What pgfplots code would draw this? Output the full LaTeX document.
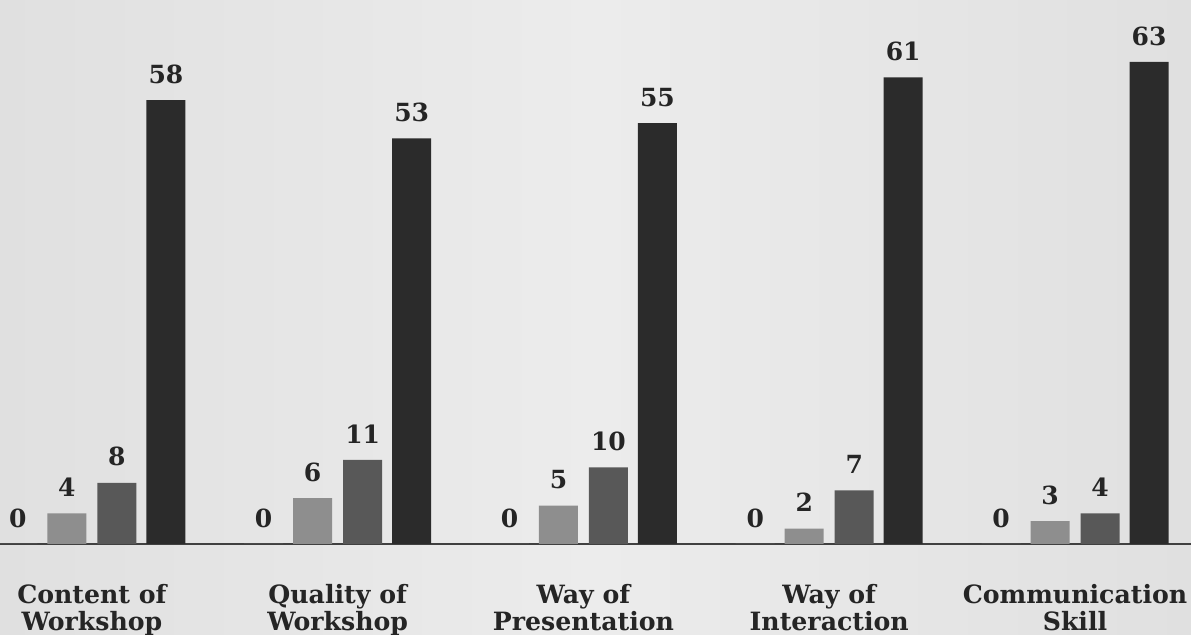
\documentclass[border=0pt]{standalone}
\usepackage{fontspec}
\setmainfont{DejaVu Serif}
\usepackage{pgfplots}
\pgfplotsset{compat=1.18}
\definecolor{bgc}{HTML}{E0E0E0}
\definecolor{bgw}{HTML}{ECECEC}
\definecolor{lightbar}{HTML}{8E8E8E}
\definecolor{midbar}{HTML}{585858}
\definecolor{darkbar}{HTML}{2B2B2B}
\definecolor{txt}{HTML}{252525}
\begin{document}
\begin{tikzpicture}
\shade[left color=bgc, right color=bgc, middle color=bgw] (0,-45.5pt) rectangle (595.5pt,272pt);
\begin{axis}[
  at={(0,0)}, anchor=south west,
  scale only axis, width=595.5pt, height=272pt,
  xmin=-0.374, xmax=4.472, ymin=0, ymax=71.1,
  axis x line*=bottom, axis y line=none,
  x axis line style={draw=black!75, line width=1pt, -},
  xtick={0,1,2,3,4},
  xticklabels={{Content of\\Workshop},{Quality of\\Workshop},{Way of\\Presentation},{Way of\\Interaction},{Communication\\Skill}},
  xticklabel style={align=center, font=\bfseries\fontsize{12.6}{13.5}\selectfont, text=txt, yshift=-16.5pt},
  major tick length=0pt,
  ybar, bar width=19.5pt,
  nodes near coords,
  /pgf/number format/assume math mode=true,
  every node near coord/.append style={anchor=center, yshift=13pt, font=\bfseries\fontsize{12.5}{13}\selectfont, text=txt},
  clip=false,
]
\addplot[draw=none, fill=lightbar, bar shift=-37pt] coordinates {(0,0) (1,0) (2,0) (3,0) (4,0)};
\addplot[draw=none, fill=lightbar, bar shift=-12.5pt] coordinates {(0,4) (1,6) (2,5) (3,2) (4,3)};
\addplot[draw=none, fill=midbar, bar shift=12.5pt] coordinates {(0,8) (1,11) (2,10) (3,7) (4,4)};
\addplot[draw=none, fill=darkbar, bar shift=37pt] coordinates {(0,58) (1,53) (2,55) (3,61) (4,63)};
\end{axis}
\pgfresetboundingbox
\path[use as bounding box] (0,-45.5pt) rectangle (595.5pt,272pt);
\end{tikzpicture}
\end{document}
